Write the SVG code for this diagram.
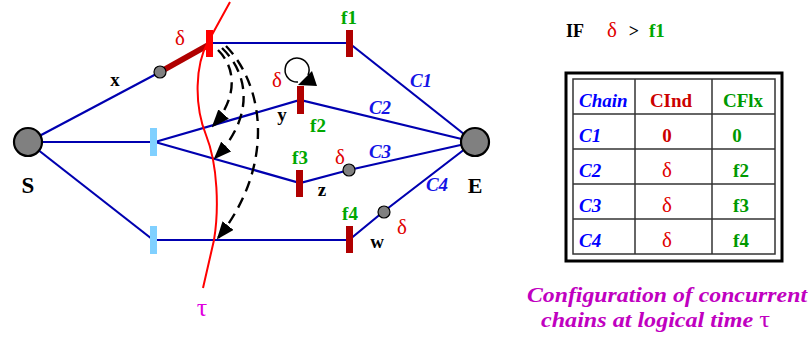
<svg xmlns="http://www.w3.org/2000/svg" width="812" height="341" viewBox="0 0 812 341">
<style>
.edge{stroke:#0000b0;stroke-width:2.2;fill:none}
.dash{stroke:#000;stroke-width:2.4;fill:none;stroke-dasharray:11,7;marker-end:url(#ah)}
.big{fill:#808080;stroke:#000;stroke-width:2.2}
.sm{fill:#808080;stroke:#000;stroke-width:1.2}
.lb{fill:#80d0ff}
.db{fill:#b00000}
.t{font-family:"Liberation Serif",serif;font-weight:bold}
.g{fill:#00a800;font-size:19px}
.r{fill:#e00000;font-size:21px;font-weight:normal}
.k{fill:#000;font-size:19px}
.c{fill:#1414e6;font-size:19px;font-style:italic}
.grid{stroke:#333;stroke-width:1.5;fill:none}
</style>
<defs>
<marker id="ah" markerWidth="18" markerHeight="14" refX="16" refY="7" orient="auto" markerUnits="userSpaceOnUse">
<path d="M0,0 L18,7 L0,14 Z" fill="#000"/>
</marker>
</defs>
<rect width="812" height="341" fill="#fff"/>
<g id="connectors">
<line class="edge" x1="28" y1="142" x2="160" y2="72"/>
<line x1="160" y1="72" x2="210" y2="44" stroke="#b00000" stroke-width="6"/>
<line class="edge" x1="210" y1="43" x2="349" y2="43"/>
<line class="edge" x1="349" y1="43" x2="474" y2="142"/>
<line class="edge" x1="28" y1="142" x2="153" y2="142"/>
<polyline class="edge" points="155,142 300,100 474,142"/>
<polyline class="edge" points="155,142 300,183 349,170 474,142"/>
<line class="edge" x1="28" y1="142" x2="152" y2="239"/>
<line class="edge" x1="153" y1="240" x2="349" y2="240"/>
<polyline class="edge" points="349,240 383,212 474,142"/>
<path d="M230,2 L208,42 C195,65 194,105 206,135 C218,165 219,210 214,240 L203,288" stroke="#ff0000" stroke-width="2" fill="none"/>
<path class="dash" d="M218,50 C238,70 236,100 213,126"/>
<path class="dash" d="M222,48 C250,75 254,118 215,158"/>
<path class="dash" d="M226,46 C266,88 274,168 218,238"/>
<path d="M298,82 A12,12 0 1 1 308,75" stroke="#000" stroke-width="1.5" fill="none"/>
<path d="M298,85 L317,86 L312,71 Z" fill="#000"/>
</g>
<g id="S"><circle class="big" cx="28" cy="142" r="14"/><text class="t k" x="28" y="193" text-anchor="middle" style="font-size:23px">S</text></g>
<g id="E"><circle class="big" cx="475" cy="142" r="14"/><text class="t k" x="475" y="193" text-anchor="middle" style="font-size:22px">E</text></g>
<g id="x"><circle class="sm" cx="160" cy="72" r="6"/><text class="t k" x="115" y="86" text-anchor="middle">x</text><text class="t r" x="180" y="45" text-anchor="middle">δ</text></g>
<g id="tau-bar"><rect x="206" y="30" width="7" height="27" fill="#ff0000"/></g>
<g id="f1"><rect class="db" x="346" y="30" width="7" height="27"/><text class="t g" x="349" y="24" text-anchor="middle">f1</text></g>
<g id="b1"><rect class="lb" x="150" y="128" width="7" height="28"/></g>
<g id="b2"><rect class="lb" x="150" y="226" width="7" height="28"/></g>
<g id="y"><rect class="db" x="297" y="86" width="7" height="28"/><text class="t k" x="282" y="121" text-anchor="middle">y</text><text class="t g" x="318" y="132" text-anchor="middle">f2</text><text class="t r" x="277" y="87" text-anchor="middle">δ</text></g>
<g id="z"><rect class="db" x="296" y="170" width="7" height="27"/><circle class="sm" cx="349" cy="170" r="6"/><text class="t k" x="322" y="196" text-anchor="middle">z</text><text class="t g" x="300" y="164" text-anchor="middle">f3</text><text class="t r" x="340" y="164" text-anchor="middle">δ</text></g>
<g id="w"><rect class="db" x="346" y="226" width="7" height="27"/><circle class="sm" cx="384" cy="212" r="6"/><text class="t k" x="377" y="248" text-anchor="middle">w</text><text class="t g" x="350" y="220" text-anchor="middle">f4</text><text class="t r" x="402" y="234" text-anchor="middle">δ</text></g>
<g id="labels">
<text class="t c" x="421" y="87" text-anchor="middle">C1</text>
<text class="t c" x="380" y="114" text-anchor="middle">C2</text>
<text class="t c" x="380" y="158" text-anchor="middle">C3</text>
<text class="t c" x="437" y="191" text-anchor="middle">C4</text>
<text x="202" y="316" text-anchor="middle" font-family="Liberation Serif,serif" font-size="26" fill="#e000e0">τ</text>
</g>
<g id="cond">
<text class="t k" x="566" y="37" style="font-size:18px">IF</text>
<text class="t r" x="612" y="37" text-anchor="middle">δ</text>
<text class="t k" x="634" y="37" text-anchor="middle" style="font-size:18px">&gt;</text>
<text class="t g" x="649" y="37">f1</text>
</g>
<g id="table">
<rect x="566" y="73" width="216" height="188" fill="none" stroke="#000" stroke-width="3"/>
<rect class="grid" x="573" y="79" width="202" height="175"/>
<line class="grid" x1="635" y1="79" x2="635" y2="254"/>
<line class="grid" x1="712" y1="79" x2="712" y2="254"/>
<line class="grid" x1="573" y1="114" x2="775" y2="114"/>
<line class="grid" x1="573" y1="149" x2="775" y2="149"/>
<line class="grid" x1="573" y1="184" x2="775" y2="184"/>
<line class="grid" x1="573" y1="219" x2="775" y2="219"/>
<text class="t c" x="579" y="107" style="fill:#0000ff">Chain</text>
<text class="t" x="671" y="107" text-anchor="middle" font-size="19" fill="#cc0000">CInd</text>
<text class="t" x="743" y="107" text-anchor="middle" font-size="19" fill="#009900">CFlx</text>
<text class="t c" x="579" y="142" style="fill:#0000ff">C1</text>
<text class="t c" x="579" y="177" style="fill:#0000ff">C2</text>
<text class="t c" x="579" y="212" style="fill:#0000ff">C3</text>
<text class="t c" x="579" y="247" style="fill:#0000ff">C4</text>
<text class="t" x="667" y="142" text-anchor="middle" font-size="19" fill="#cc0000">0</text>
<text class="t r" x="667" y="177" text-anchor="middle">δ</text>
<text class="t r" x="667" y="212" text-anchor="middle">δ</text>
<text class="t r" x="667" y="247" text-anchor="middle">δ</text>
<text class="t" x="737" y="142" text-anchor="middle" font-size="19" fill="#009900">0</text>
<text class="t" x="741" y="177" text-anchor="middle" font-size="19" fill="#009900">f2</text>
<text class="t" x="741" y="212" text-anchor="middle" font-size="19" fill="#009900">f3</text>
<text class="t" x="741" y="247" text-anchor="middle" font-size="19" fill="#009900">f4</text>
</g>
<g id="caption" font-family="Liberation Serif,serif" font-weight="bold" font-style="italic" font-size="21.5" fill="#c000c0">
<text x="527" y="302" textLength="280" lengthAdjust="spacingAndGlyphs">Configuration of concurrent</text>
<text x="541" y="327" textLength="229" lengthAdjust="spacingAndGlyphs">chains at logical time <tspan font-style="normal" font-weight="normal" font-size="24">τ</tspan></text>
</g>
</svg>
